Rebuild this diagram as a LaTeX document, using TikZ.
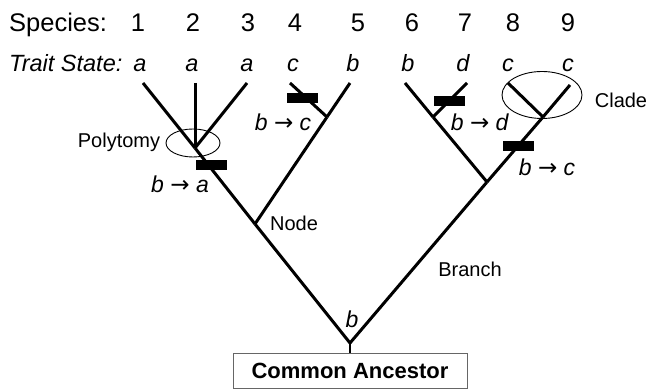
\documentclass[tikz,border=0pt]{standalone}
\usepackage{fontspec}
\setmainfont{Liberation Sans}
\newfontfamily\arrfont{DejaVu Sans}
\usetikzlibrary{shapes.geometric}
\newcommand{\chgarrow}{{\arrfont\upshape →}}
\begin{document}
\begin{tikzpicture}[x=1pt,y=-1pt,
  edge/.style={line width=3pt},
  bar/.style={fill=black, minimum width=31pt, minimum height=10pt, inner sep=0pt},
  ring/.style={draw, ellipse, line width=0.9pt, inner sep=0pt},
  sp/.style={anchor=base, inner sep=0pt, font=\fontsize{25.5}{30}\selectfont},
  tr/.style={anchor=base, inner sep=0pt, font=\fontsize{23.5}{28}\selectfont\itshape},
  lab/.style={inner sep=0pt, font=\fontsize{20}{24}\selectfont},
  chg/.style={inner sep=0pt, font=\fontsize{23}{27}\selectfont}]
\useasboundingbox (0,0) rectangle (649,390);
% header rows
\node[sp, anchor=base west] (splab) at (9,32) {Species:};
\foreach \n/\x in {1/138,2/193,3/248,4/295,5/358,6/412,7/465,8/513,9/568}
  \node[sp] (s\n) at (\x,32) {\n};
\node[tr, anchor=base west] (trlab) at (9,72) {Trait State:};
\foreach \n/\x/\t in {1/140/a,2/192/a,3/247/a,4/293/c,5/353/b,6/408/b,7/463/d,8/508/c,9/568/c}
  \node[tr] (ts\n) at (\x,72) {\t};
% tips and internal points
\coordinate (t1) at (143,83);
\coordinate (t2) at (195,83);
\coordinate (t3) at (247,83);
\coordinate (t4) at (290,83);
\coordinate (t5) at (350,83);
\coordinate (t6) at (405,83);
\coordinate (t7) at (467,83);
\coordinate (t8) at (508,83);
\coordinate (t9) at (570,85);
\coordinate (poly) at (195,148);
\coordinate (nd) at (255,224);
\coordinate (j45) at (327,117);
\coordinate (j67) at (487,182);
\coordinate (j7) at (433,117);
\coordinate (cl) at (543,117);
\coordinate (root) at (350,343);
% box
\node[draw=black!60, line width=0.8pt, minimum width=234pt, minimum height=35pt, inner sep=0pt,
      font=\fontsize{22}{26}\selectfont\bfseries] (ca) at (350,370.5) {Common Ancestor};
% edges
\draw[edge] (t1) -- (poly);
\draw[edge] (t2) -- (poly);
\draw[edge] (t3) -- (poly);
\draw[edge] (poly) -- (nd);
\draw[edge] (nd) -- (root);
\draw[edge] (t4) -- (j45);
\draw[edge] (t5) -- (j45);
\draw[edge] (j45) -- (nd);
\draw[edge] (t6) -- (j7);
\draw[edge] (j7) -- (j67);
\draw[edge] (t7) -- (j7);
\draw[edge] (t8) -- (cl);
\draw[edge] (t9) -- (cl);
\draw[edge] (cl) -- (j67);
\draw[edge] (j67) -- (root);
\draw[line width=2pt] (root) -- (ca.north);
% ellipses
\node[ring, minimum width=54pt, minimum height=28pt] (polyring) at (193,143) {};
\node[ring, minimum width=80pt, minimum height=47pt] (clring) at (542,95) {};
% bars
\node[bar] (bar4) at (302,98) {};
\node[bar] (bara) at (211,165) {};
\node[bar] (bar7) at (449,101) {};
\node[bar] (barc) at (518,146) {};
% labels
\node[chg] (c4) at (283,122) {\textit{b} \chgarrow{} \textit{c}};
\node[chg] (ca1) at (180,184) {\textit{b} \chgarrow{} \textit{a}};
\node[chg] (c7) at (480,122) {\textit{b} \chgarrow{} \textit{d}};
\node[chg] (c89) at (547,167) {\textit{b} \chgarrow{} \textit{c}};
\node[lab] (polylab) at (119,142) {Polytomy};
\node[lab] (cladelab) at (621,100) {Clade};
\node[lab] (nodelab) at (294,223) {Node};
\node[lab] (branchlab) at (470,269) {Branch};
\node[chg, font=\fontsize{23}{27}\selectfont\itshape] (rootlab) at (352,319) {b};
\end{tikzpicture}
\end{document}
